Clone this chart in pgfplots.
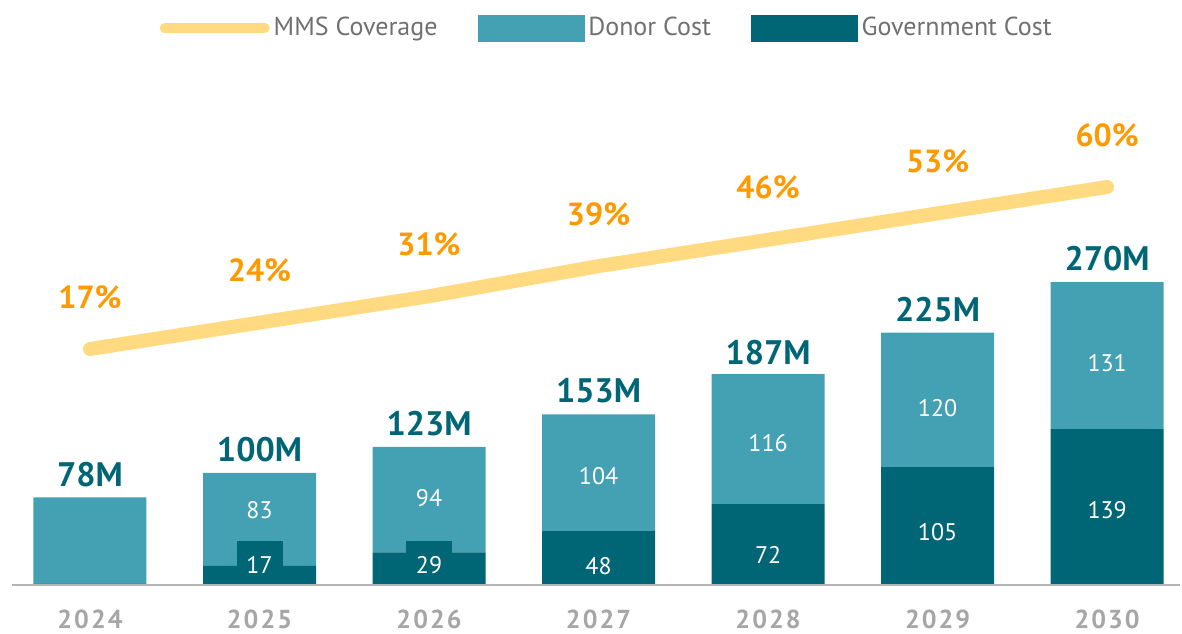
\documentclass[border=0pt]{standalone}
\usepackage{fontspec}
\setmainfont{PT Sans}
\newfontfamily\yearfont[LetterSpace=8]{PT Sans}
\usepackage{pgfplots}
\pgfplotsset{compat=1.18}
\definecolor{donor}{HTML}{43A1B3}
\definecolor{gov}{HTML}{006675}
\definecolor{mms}{HTML}{FFDA80}
\definecolor{pct}{HTML}{FF9900}
\definecolor{yeargray}{HTML}{A6A6A6}
\definecolor{leggray}{HTML}{707070}
\definecolor{axgray}{HTML}{B4B4B4}
\begin{document}
\begin{tikzpicture}
\path[use as bounding box] (0,0) rectangle (591pt,316.5pt);
\pgfplotsset{base/.style={scale only axis, width=584pt, height=242.5pt,
  xmin=-0.46, xmax=6.43, anchor=south west, at={(6pt,24pt)}, clip=false}}
% bars
\begin{axis}[base, ymin=0, ymax=432.2, ybar stacked, bar width=56.5pt, hide axis]
\addplot[fill=gov, draw=none] coordinates {(0,1) (1,17) (2,29) (3,48) (4,72) (5,105) (6,139)};
\addplot[fill=donor, draw=none] coordinates {(0,77) (1,83) (2,94) (3,104) (4,116) (5,120) (6,131)};
\end{axis}
% labels and legend
\begin{axis}[base, ymin=0, ymax=432.2, hide axis,
  legend style={at={(0.510,1.148)}, anchor=center, draw=none, fill=none,
    font=\fontsize{13}{13}\selectfont, text=leggray,
    /tikz/every even column/.append style={column sep=18pt}},
  legend columns=-1, legend cell align=left]
\addlegendimage{legend image code/.code={\draw[mms, line width=5pt, line cap=round] (0pt,0pt) -- (50pt,0pt);}}
\addlegendentry{MMS Coverage}
\addlegendimage{legend image code/.code={\fill[donor] (0pt,-6.5pt) rectangle (53pt,6.5pt);}}
\addlegendentry{Donor Cost}
\addlegendimage{legend image code/.code={\fill[gov] (0pt,-6.5pt) rectangle (53pt,6.5pt);}}
\addlegendentry{Government Cost}
% label background boxes for the small government segments
\addplot[draw=none, mark=none, forget plot, nodes near coords, point meta=explicit symbolic,
  nodes near coords style={fill=gov, inner sep=0pt, minimum width=23pt, minimum height=22pt, anchor=south}]
  coordinates {(1,0)[] (2,0)[] (3,0)[]};
% donor segment labels
\addplot[draw=none, mark=none, forget plot, nodes near coords, point meta=explicit symbolic,
  nodes near coords style={text=white, font=\fontsize{12}{12}\selectfont, anchor=center}]
  coordinates {(1,66.8)[83] (2,77.5)[94] (3,96.7)[104] (4,126.6)[116] (5,157.8)[120] (6,197.9)[131]};
% government segment labels
\addplot[draw=none, mark=none, forget plot, nodes near coords, point meta=explicit symbolic,
  nodes near coords style={text=white, font=\fontsize{12}{12}\selectfont, anchor=center}]
  coordinates {(1,17.8)[17] (2,17.8)[29] (3,16.9)[48] (4,26.7)[72] (5,47.2)[105] (6,66.8)[139]};
% totals
\addplot[draw=none, mark=none, forget plot, nodes near coords, point meta=explicit symbolic,
  nodes near coords style={text=gov, font=\bfseries\fontsize{17}{17}\selectfont, anchor=center, yshift=11.5pt}]
  coordinates {(0,78)[78M] (1,100)[100M] (2,123)[123M] (3,153)[153M] (4,187)[187M] (5,225)[225M] (6,270)[270M]};
\end{axis}
% coverage line and x axis
\begin{axis}[base, ymin=-45.65, ymax=83.1,
  axis x line*=bottom, axis y line=none,
  x axis line style={axgray, line width=1pt, -},
  xtick={0,1,2,3,4,5,6}, xticklabels={2024,2025,2026,2027,2028,2029,2030},
  major tick length=0pt,
  xticklabel style={anchor=center, yshift=-17pt, text=yeargray, inner sep=0pt,
    font=\yearfont\bfseries\fontsize{13}{13}\selectfont}]
\addplot[mms, line width=7pt, line cap=round, line join=round, mark=none,
  nodes near coords, point meta=explicit symbolic,
  nodes near coords style={text=pct, font=\bfseries\fontsize{16}{16}\selectfont, anchor=center, yshift=26pt}]
  coordinates {(0,17)[17\%] (1,24)[24\%] (2,31)[31\%] (3,39)[39\%] (4,46)[46\%] (5,53)[53\%] (6,60)[60\%]};
\end{axis}
\end{tikzpicture}
\end{document}
